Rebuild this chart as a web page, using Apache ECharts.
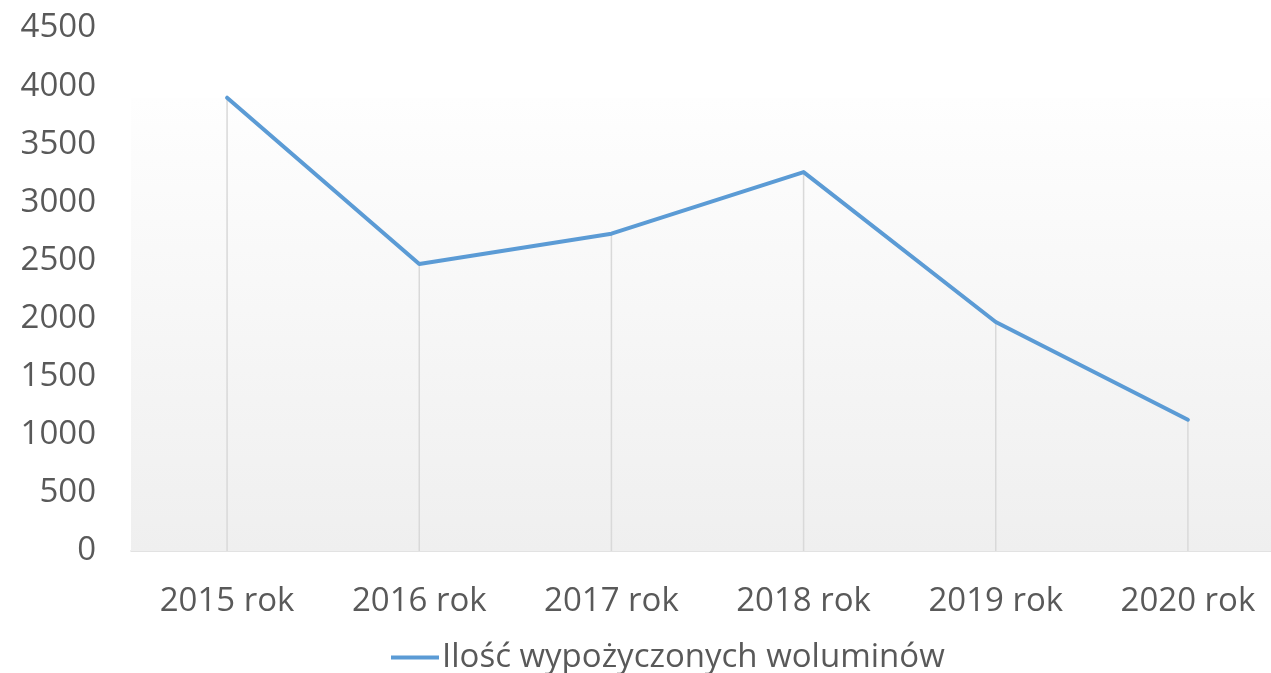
<!DOCTYPE html>
<html>
<head>
<meta charset="utf-8">
<script src="https://cdn.jsdelivr.net/npm/echarts@6/dist/echarts.min.js"></script>
<style>
  html, body { margin: 0; padding: 0; background: #fff; }
  #chart { width: 1271px; height: 673px; }
</style>
</head>
<body>
<div id="chart"></div>
<script>
  // dane z wykresu
  var years = ['2015 rok', '2016 rok', '2017 rok', '2018 rok', '2019 rok', '2020 rok'];
  var loans = [3900, 2470, 2730, 3260, 1970, 1130];
  var seriesName = 'Ilość wypożyczonych woluminów';
  var yTicks = [0, 500, 1000, 1500, 2000, 2500, 3000, 3500, 4000, 4500];

  var textColor = '#595959';
  var font = 'Open Sans';

  var chart = echarts.init(document.getElementById('chart'));

  chart.setOption({
    animation: false,
    grid: {
      left: 131,
      right: -13,
      top: 28,
      bottom: 122,
      outerBoundsMode: 'none'
    },
    legend: {
      left: 386,
      top: 636,
      icon: 'rect',
      itemWidth: 48,
      itemHeight: 4,
      itemGap: 6,
      textStyle: { color: textColor, fontSize: 33, fontFamily: font, padding: [0, 0, 0, -2] },
      data: [seriesName]
    },
    xAxis: {
      type: 'category',
      data: years,
      boundaryGap: true,
      axisLine: { lineStyle: { color: '#d9d9d9', width: 1.5 } },
      axisTick: { show: false },
      axisLabel: { color: textColor, fontSize: 33, fontFamily: font, margin: 34 }
    },
    yAxis: {
      type: 'value',
      min: yTicks[0],
      max: yTicks[yTicks.length - 1],
      interval: 500,
      axisLine: { show: false },
      axisTick: { show: false },
      splitLine: { show: false },
      axisLabel: {
        color: textColor, fontSize: 33, fontFamily: font, margin: 35,
        formatter: function (v) { return String(v); }
      }
    },
    series: [
      {
        // linie pionowe od punktu do osi
        name: 'drop',
        type: 'bar',
        data: loans,
        barWidth: 1.5,
        silent: true,
        itemStyle: { color: '#d9d9d9' },
        z: 1,
        markArea: {
          silent: true,
          itemStyle: {
            color: {
              type: 'linear', x: 0, y: 0, x2: 0, y2: 1,
              colorStops: [
                { offset: 0, color: '#fefefe' },
                { offset: 1, color: '#efefef' }
              ]
            }
          },
          data: [[{ yAxis: 0, x: 131 }, { yAxis: Math.max.apply(null, loans), x: 1290 }]]
        }
      },
      {
        name: seriesName,
        type: 'line',
        data: loans,
        symbol: 'none',
        lineStyle: { color: '#5b9bd5', width: 4, cap: 'round', join: 'round' },
        itemStyle: { color: '#5b9bd5' },
        z: 3
      }
    ]
  });
</script>
</body>
</html>
